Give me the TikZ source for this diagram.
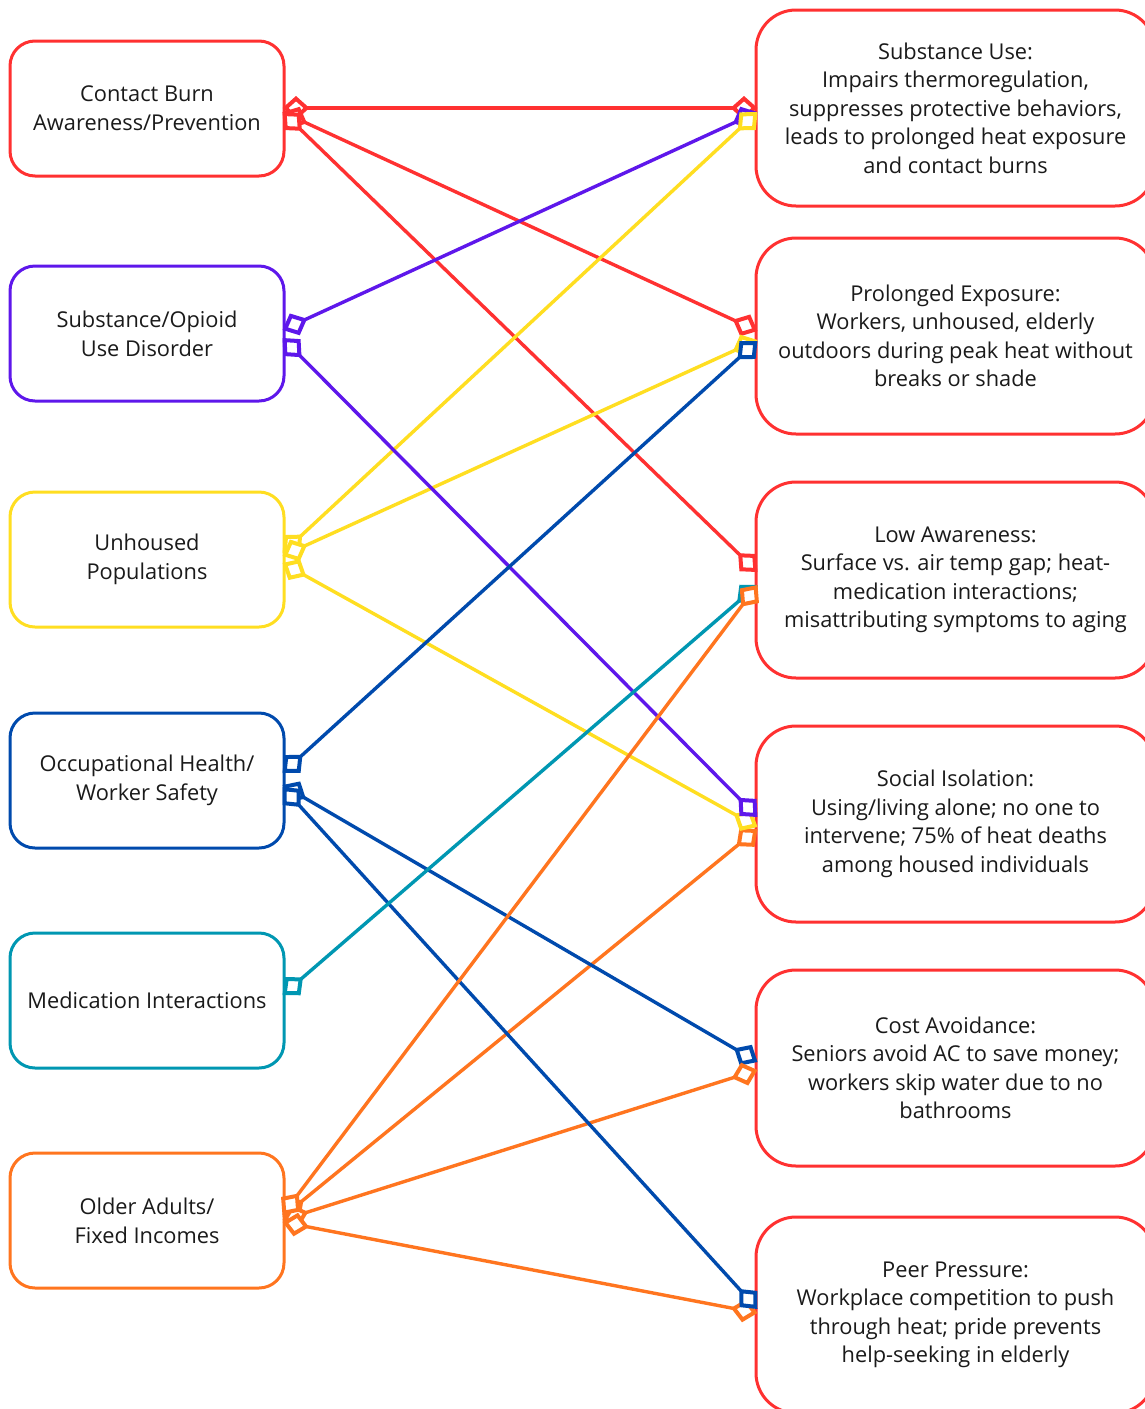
\documentclass[tikz,border=0pt]{standalone}
\usepackage{fontspec}
\setmainfont{Open Sans}
\usetikzlibrary{arrows.meta,calc}
\definecolor{cred}{HTML}{FF3131}
\definecolor{cpurple}{HTML}{5E17EB}
\definecolor{cyellow}{HTML}{FFDE21}
\definecolor{cblue}{HTML}{004AAD}
\definecolor{cteal}{HTML}{0097B2}
\definecolor{corange}{HTML}{FF751F}
\definecolor{ctext}{HTML}{1A1A1A}
\tikzset{
  lbox/.style={draw, line width=3pt, outer sep=0pt, rounded corners=25pt, minimum width=274pt, minimum height=135pt, align=center, text=ctext, font=\fontsize{21.8}{28.8}\selectfont, inner sep=0pt},
  rbox/.style={draw=cred, line width=3pt, outer sep=0pt, rounded corners=40pt, minimum width=399pt, minimum height=196pt, align=center, text=ctext, font=\fontsize{21.8}{28.5}\selectfont, inner sep=0pt},
  dtip/.tip={Diamond[length=27pt 0,width=24pt 0,fill=white,line width=4pt]},
  conn/.style={line width=3.4pt, dtip-dtip}
}
\begin{document}
\begin{tikzpicture}[x=1pt,y=-1pt]
\useasboundingbox (0,0) rectangle (1145,1409);
\clip (0,0) rectangle (1145,1409);
\fill[white] (0,0) rectangle (1145,1409);
% left boxes
\node[lbox, draw=cred]    (L1) at (147,108.5)  {Contact Burn\\Awareness/Prevention};
\node[lbox, draw=cpurple] (L2) at (147,333.5)  {Substance/Opioid\\Use Disorder};
\node[lbox, draw=cyellow] (L3) at (147,559.5)  {Unhoused\\Populations};
\node[lbox, draw=cblue]   (L4) at (147,780.5)  {Occupational Health/\\Worker Safety};
\node[lbox, draw=cteal]   (L5) at (147,1000.5) {Medication Interactions};
\node[lbox, draw=corange] (L6) at (147,1220.5) {Older Adults/\\Fixed Incomes};
% right boxes
\node[rbox] (R1) at (955.5,108)  {Substance Use:\\Impairs thermoregulation,\\suppresses protective behaviors,\\leads to prolonged heat exposure\\and contact burns};
\node[rbox] (R2) at (955.5,336)  {Prolonged Exposure:\\Workers, unhoused, elderly\\outdoors during peak heat without\\breaks or shade};
\node[rbox] (R3) at (955.5,580)  {Low Awareness:\\Surface vs. air temp gap; heat-\\medication interactions;\\misattributing symptoms to aging};
\node[rbox] (R4) at (955.5,824)  {Social Isolation:\\Using/living alone; no one to\\intervene; 75\% of heat deaths\\among housed individuals};
\node[rbox] (R5) at (955.5,1068) {Cost Avoidance:\\Seniors avoid AC to save money;\\workers skip water due to no\\bathrooms};
\node[rbox] (R6) at (955.5,1315) {Peer Pressure:\\Workplace competition to push\\through heat; pride prevents\\help-seeking in elderly};
% connectors
\draw[conn, cred] ($(L1.east)+(-1.5,-0.5)$) -- ($(R1.west)+(1.5,0)$);
\draw[conn, cred] ($(L1.east)+(-1.5,3.5)$) -- ($(R2.west)+(1.5,-5)$);
\draw[conn, cred] ($(L1.east)+(-1.5,3.5)$) -- ($(R3.west)+(1.5,-8)$);
\draw[conn, cpurple] ($(L2.east)+(-1.5,-3.5)$) -- ($(R1.west)+(1.5,4)$);
\draw[conn, cyellow] ($(L3.east)+(-1.5,-6.5)$) -- ($(R1.west)+(1.5,4)$);
\draw[conn, cyellow] ($(L3.east)+(-1.5,-3.5)$) -- ($(R2.west)+(1.5,4)$);
\draw[conn, corange] ($(L6.east)+(-1.5,-3.5)$) -- ($(R4.west)+(1.5,5)$);
\draw[conn, cyellow] ($(L3.east)+(-1.5,3.5)$) -- ($(R4.west)+(1.5,3)$);
\draw[conn, cpurple] ($(L2.east)+(-1.5,4.5)$) -- ($(R4.west)+(1.5,-7)$);
\draw[conn, cblue] ($(L4.east)+(-1.5,-7.5)$) -- ($(R2.west)+(1.5,5)$);
\draw[conn, cblue] ($(L4.east)+(-1.5,4.5)$) -- ($(R5.west)+(1.5,-6)$);
\draw[conn, corange] ($(L6.east)+(-1.5,-0.5)$) -- ($(R5.west)+(1.5,2)$);
\draw[conn, corange] ($(L6.east)+(-1.5,1.5)$) -- ($(R6.west)+(1.5,-2)$);
\draw[conn, cblue] ($(L4.east)+(-1.5,6.5)$) -- ($(R6.west)+(1.5,-6)$);
\draw[conn, cteal] ($(L5.east)+(-1.5,-5.5)$) -- ($(R3.west)+(1.5,5)$);
\draw[conn, corange] ($(L6.east)+(-1.5,-5.5)$) -- ($(R3.west)+(1.5,5)$);
\end{tikzpicture}
\end{document}
